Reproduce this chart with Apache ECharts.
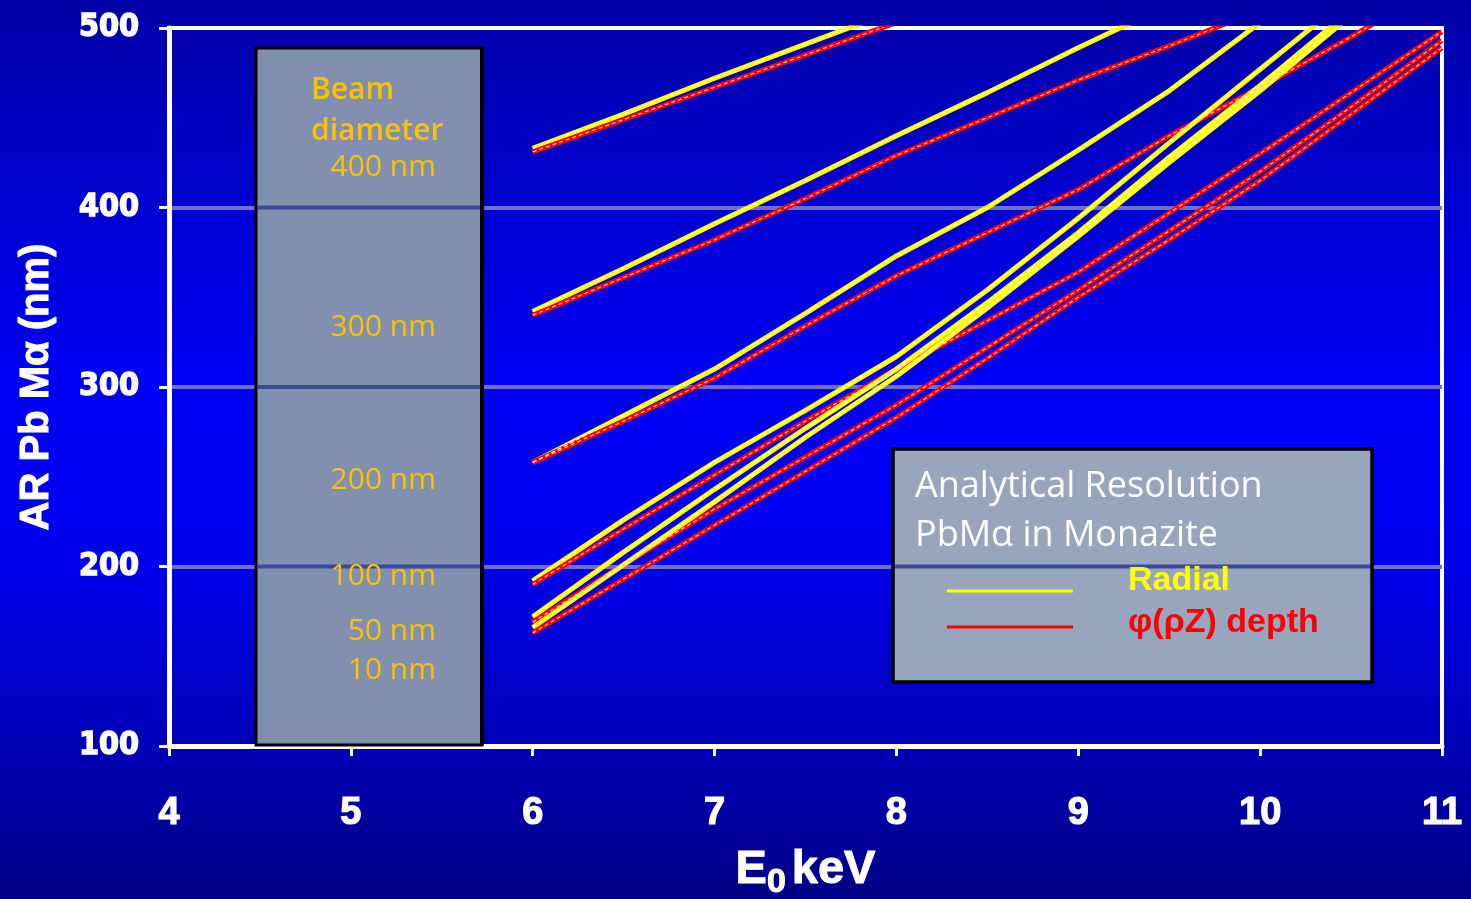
<!DOCTYPE html>
<html><head><meta charset="utf-8">
<script src="https://cdn.jsdelivr.net/npm/echarts@6/dist/echarts.min.js"></script>
<style>html,body{margin:0;padding:0;background:#0000c0;}#c{width:1471px;height:899px;}</style>
</head><body><div id="c"></div>
<script>
// ---- data ----
const energy = [6, 6.5, 7, 7.5, 8, 8.5, 9, 9.5, 10, 10.5, 11];
const radial400 = [433, 452, 472, 491, 510];
const depth400  = [431, 449, 467, 485, 503];
const radial300 = [342, 366, 391, 415, 440, 464, 489, 513];
const depth300  = [340, 361, 382, 405, 429, 450, 471, 490, 510];
const radial200 = [258, 284, 310, 341, 373, 400, 432, 465, 503];
const depth200  = [258, 281, 305, 334, 362, 386, 410, 440, 467, 495, 525];
const radial100 = [192, 226, 258, 287, 317, 354, 394, 436, 477, 518];
const depth100  = [190, 221, 251, 281, 310, 337, 364, 397, 430, 464, 498];
const radial50  = [172, 208, 243, 277, 310, 347, 386, 428, 468, 510];
const depth50   = [169, 201, 232, 261, 290, 322, 354, 387, 420, 456, 493];
const radial10  = [166, 201, 236, 272, 306, 344, 384, 425, 465, 507];
const depth10   = [163, 193, 223, 253, 283, 316, 350, 382, 415, 452, 489];
const xTicks = [4, 5, 6, 7, 8, 9, 10, 11];
const yTicks = [100, 200, 300, 400, 500];
const beamTitle = ['Beam', 'diameter'];
const beamLabels = ['400 nm', '300 nm', '200 nm', '100 nm', '50 nm', '10 nm'];
const legendTitle = ['Analytical Resolution', 'PbM\u03b1 in Monazite'];
const legendNames = ['Radial', '\u03c6(\u03c1Z) depth'];
const yTitle = 'AR Pb M\u03b1 (nm)';

const YELLOW = '#ffff00', RED = '#ff0000';
function pairs(vals) { return vals.map((v, i) => [energy[i], v]); }
const seriesDefs = [
  ['Radial 400 nm', radial400, YELLOW], ['Depth 400 nm', depth400, RED],
  ['Radial 300 nm', radial300, YELLOW], ['Depth 300 nm', depth300, RED],
  ['Radial 200 nm', radial200, YELLOW], ['Depth 200 nm', depth200, RED],
  ['Radial 100 nm', radial100, YELLOW], ['Depth 100 nm', depth100, RED],
  ['Radial 50 nm', radial50, YELLOW], ['Depth 50 nm', depth50, RED],
  ['Radial 10 nm', radial10, YELLOW], ['Depth 10 nm', depth10, RED]
];
const series = [];
seriesDefs.forEach(([name, vals, color]) => {
  series.push({name, type: 'line', data: pairs(vals), showSymbol: false, symbol: 'none', clip: true,
    lineStyle: {color, width: 5}, itemStyle: {color}, z: 3, silent: true});
  series.push({name: name + ' highlight', type: 'line', data: pairs(vals), showSymbol: false, symbol: 'none', clip: true,
    lineStyle: {color: color === YELLOW ? '#ffffd0' : '#ffb8b8', width: 1.3, type: [4, 3]}, itemStyle: {color}, z: 4, silent: true});
});

const chart = echarts.init(document.getElementById('c'), null, {renderer: 'canvas'});
const option = {
  animation: false,
  backgroundColor: {
    type: 'linear', x: 0, y: 0, x2: 0, y2: 1,
    colorStops: [
      {offset: 0, color: '#0000a6'},
      {offset: 0.42, color: '#0000f6'},
      {offset: 0.62, color: '#0000f0'},
      {offset: 1, color: '#000086'}
    ]
  },
  grid: {left: 169, right: 29, top: 28, bottom: 153, outerBoundsMode: 'none', containLabel: false,
    show: true, borderColor: '#ffffff', borderWidth: 4, backgroundColor: 'transparent'},
  xAxis: {
    type: 'value', min: 4, max: 11, interval: 1,
    axisLine: {show: true, lineStyle: {color: '#ffffff', width: 5}},
    axisTick: {show: true, length: 10, lineStyle: {color: '#ffffff', width: 3}},
    splitLine: {show: false},
    axisLabel: {color: '#ffffff', fontWeight: 'bold', fontSize: 38, fontFamily: "'Liberation Sans', Arial, sans-serif", margin: 49,
      textBorderColor: '#ffffff', textBorderWidth: 1.2,
      formatter: v => xTicks.includes(v) ? String(v) : ''},
    name: '{e|E}{s|0}{k|keV}', nameLocation: 'middle', nameGap: 94,
    nameTextStyle: {
      color: '#ffffff', fontWeight: 'bold', fontFamily: "'Liberation Sans', Arial, sans-serif",
      rich: {
        e: {color: '#fff', fontWeight: 'bold', fontSize: 47, fontFamily: "'Liberation Sans', Arial, sans-serif", lineHeight: 60, verticalAlign: 'middle', textBorderColor: '#fff', textBorderWidth: 1},
        s: {color: '#fff', fontWeight: 'bold', fontSize: 34, fontFamily: "'Liberation Sans', Arial, sans-serif", lineHeight: 60, verticalAlign: 'bottom', textBorderColor: '#fff', textBorderWidth: 1},
        k: {color: '#fff', fontWeight: 'bold', fontSize: 47, fontFamily: "'Liberation Sans', Arial, sans-serif", lineHeight: 60, verticalAlign: 'middle', padding: [0, 0, 0, 6], textBorderColor: '#fff', textBorderWidth: 1}
      }
    }
  },
  yAxis: {
    type: 'value', min: 100, max: 500, interval: 100,
    axisLine: {show: true, lineStyle: {color: '#ffffff', width: 5}},
    axisTick: {show: true, length: 10, lineStyle: {color: '#ffffff', width: 3}},
    splitLine: {show: true, showMinLine: false, showMaxLine: false, lineStyle: {color: '#7070ca', width: 4}},
    axisLabel: {color: '#ffffff', fontWeight: 'bold', fontSize: 32, fontFamily: "'DejaVu Sans Condensed', 'DejaVu Sans', sans-serif", margin: 30,
      textBorderColor: '#ffffff', textBorderWidth: 1.4,
      formatter: v => yTicks.includes(v) ? String(v) : ''},
    name: yTitle, nameLocation: 'middle', nameGap: 112,
    nameTextStyle: {color: '#ffffff', fontWeight: 'bold', fontSize: 40, fontFamily: "'Liberation Sans', Arial, sans-serif", textBorderColor: '#fff', textBorderWidth: 1}
  },
  series
};
chart.setOption(option);

// ---- annotation boxes (text boxes of the original slide) ----
const gridY = v => chart.convertToPixel({gridIndex: 0}, [4, v])[1];
const ORANGE = '#ffc000';
const els = [];
// beam diameter box
els.push({type: 'rect', shape: {x: 256, y: 48, width: 226, height: 697}, style: {fill: '#8190ae', stroke: '#000000', lineWidth: 3}, z: 10});
els.push({type: 'line', shape: {x1: 482, y1: 48, x2: 482, y2: 745}, style: {stroke: '#000000', lineWidth: 4}, z: 11});
[200, 300, 400].forEach(v => els.push({type: 'line', shape: {x1: 258, y1: gridY(v), x2: 480, y2: gridY(v)}, style: {stroke: '#3b4a9c', lineWidth: 4}, z: 11}));
els.push({type: 'text', style: {text: beamTitle[0], x: 311, y: 90, font: '600 30px "Open Sans"', fill: ORANGE, textVerticalAlign: 'middle', verticalAlign: 'middle'}, z: 12});
els.push({type: 'text', style: {text: beamTitle[1], x: 311, y: 131, font: '600 30px "Open Sans"', fill: ORANGE, textVerticalAlign: 'middle', verticalAlign: 'middle'}, z: 12});
const beamY = [167, 327, 480, 576, 631, 670];
beamLabels.forEach((t, i) => els.push({type: 'text', style: {text: t, x: 436, y: beamY[i], font: '30px "Open Sans"', fill: ORANGE, textAlign: 'right', align: 'right', textVerticalAlign: 'middle', verticalAlign: 'middle'}, z: 12}));
// legend box
els.push({type: 'rect', shape: {x: 893, y: 449, width: 479, height: 233}, style: {fill: '#97a5bd', stroke: '#000000', lineWidth: 3.5}, z: 10});
els.push({type: 'line', shape: {x1: 895, y1: gridY(200), x2: 1370, y2: gridY(200)}, style: {stroke: '#3b4a9c', lineWidth: 4}, z: 11});
els.push({type: 'text', style: {text: legendTitle[0], x: 915, y: 487, font: '36px "Open Sans"', fill: '#ffffff', textVerticalAlign: 'middle', verticalAlign: 'middle'}, z: 12});
els.push({type: 'text', style: {text: legendTitle[1], x: 915, y: 536, font: '36px "Open Sans"', fill: '#ffffff', textVerticalAlign: 'middle', verticalAlign: 'middle'}, z: 12});
els.push({type: 'line', shape: {x1: 947, y1: 591, x2: 1073, y2: 591}, style: {stroke: YELLOW, lineWidth: 3}, z: 12});
els.push({type: 'line', shape: {x1: 947, y1: 627, x2: 1073, y2: 627}, style: {stroke: RED, lineWidth: 3}, z: 12});
els.push({type: 'text', style: {text: legendNames[0], x: 1128, y: 581, font: 'bold 34px "Liberation Sans"', fill: YELLOW, textVerticalAlign: 'middle', verticalAlign: 'middle'}, z: 12});
els.push({type: 'text', style: {text: legendNames[1], x: 1128, y: 623, font: 'bold 34px "Liberation Sans"', fill: RED, textVerticalAlign: 'middle', verticalAlign: 'middle'}, z: 12});
chart.setOption({graphic: {elements: els}});
</script></body></html>
